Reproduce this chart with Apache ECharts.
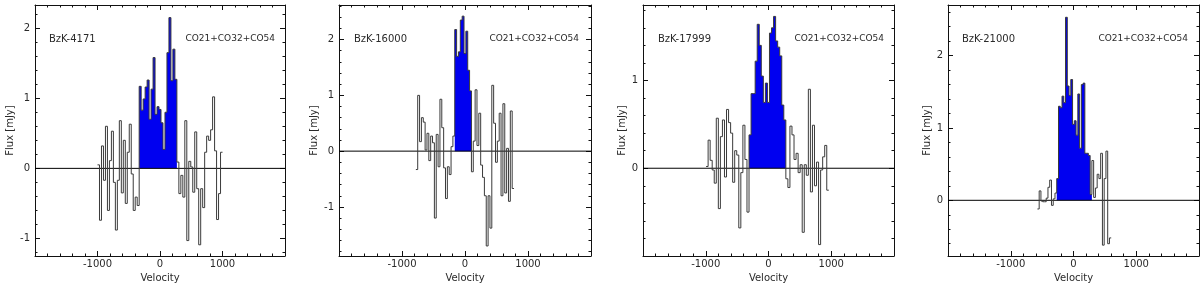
<!DOCTYPE html>
<html><head><meta charset="utf-8">
<script src="https://cdn.jsdelivr.net/npm/echarts@6/dist/echarts.min.js"></script>
<style>html,body{margin:0;padding:0;background:#fff}#c{width:1200px;height:283px}</style>
</head><body><div id="c"></div>
<script>
// ---- data ----
const sourceNames = ['BzK-4171', 'BzK-16000', 'BzK-17999', 'BzK-21000'];
const lineLabel = 'CO21+CO32+CO54';
const xTitle = 'Velocity';
const yTitle = 'Flux [mJy]';

// channel grid (velocity of first channel edge, channel width in km/s)
const vStart = [-1000, -780, -995, -575];
const chanWidth = [31.75, 29.4, 32.6, 28];

// panel 1: BzK-4171  (left noise / line channels (blue) / right noise)
const left1 = [0.05, -0.74, 0.32, -0.17, 0.6, -0.6, 0.11, 0.53, -0.2, -0.88, -0.17, 0.68, -0.35, 0.4, -0.5, 0.23, 0.63, -0.08, -0.6, -0.41, -0.53];
const line1 = [1.17, 0.83, 0.99, 1.16, 1.26, 0.7, 1.13, 1.58, 0.77, 0.88, 0.84, 0.65, 0.27, 0.8, 1.65, 2.15, 1.25, 1.7, 1.27];
const right1 = [0.09, -0.36, -0.1, -0.41, 0.68, -1.03, 0.1, 0.02, -0.34, 0.52, -0.29, -1.09, -0.29, -0.56, 0.23, 0.46, 0.4, 0.55, 1.02, 0.25, -0.73, -0.36, 0.23];
// panel 2: BzK-16000
const left2 = [-0.33, 1.0, 0.17, 0.6, 0.52, 0.02, 0.32, -0.17, 0.27, 0.15, -1.2, 0.3, -0.28, 0.93, 0.42, -0.3, -0.85, -0.28, -0.42, 0.08, 0.27];
const line2 = [2.18, 1.7, 1.78, 2.35, 2.42, 1.75, 2.15, 1.45, 1.08];
const right2 = [-0.37, 0.18, 1.1, 0.1, 0.68, -0.25, -0.47, -0.8, -1.7, -0.8, -1.38, 1.18, 0.5, -0.2, 0.18, 0.68, -0.8, 0.85, -0.75, 0.05, -0.9, 0.72, -0.67];
// panel 3: BzK-17999
const left3 = [0.02, 0.32, 0.09, -0.02, -0.17, 0.57, -0.46, 0.36, 0.55, -0.1, 0.67, 0.52, 0.4, -0.16, 0.2, 0.15, -0.68, -0.05, 0.49, 0.1, -0.5];
const line3 = [0.38, 0.85, 0.85, 1.22, 1.64, 1.4, 1.05, 0.75, 0.97, 0.75, 1.54, 1.6, 1.73, 1.45, 1.38, 1.28, 0.72, 0.55];
const right3 = [-0.12, -0.22, 0.48, 0.38, 0.1, 0.17, -0.05, 0.04, -0.73, 0.04, -0.08, 0.9, -0.27, 0.49, -0.2, 0.07, -0.87, -0.02, 0.13, 0.26, -0.25];
// panel 4: BzK-21000
const left4 = [-0.12, 0.13, -0.01, -0.02, -0.02, 0.03, 0.18, 0.28, -0.07, 0.02, 0.1];
const line4 = [0.3, 1.3, 1.28, 1.44, 1.35, 2.53, 1.58, 1.45, 1.67, 1.05, 1.1, 0.9, 1.47, 0.72, 1.6, 1.62, 0.65, 0.65, 0.62, 0.08];
const right4 = [0.55, 0.04, 0.17, 0.36, 0.3, 0.65, -0.62, 0.3, 0.68, -0.6, -0.52];

// axes
const xMin = -2000, xMax = 2000;
const xMajorTicks = [-1000, 0, 1000];
const xMinorTicks = [-1800, -1600, -1400, -1200, -1000, -800, -600, -400, -200, 0, 200, 400, 600, 800, 1000, 1200, 1400, 1600, 1800];
const yMin = [-1.25, -1.88, -1.0, -0.77];
const yMax = [2.33, 2.62, 1.86, 2.70];
const yMajorTicks = [[-1, 0, 1, 2], [-1, 0, 1, 2], [0, 1], [0, 1, 2]];
const yMinorTicks = [
  [-1.2, -1, -0.8, -0.6, -0.4, -0.2, 0, 0.2, 0.4, 0.6, 0.8, 1, 1.2, 1.4, 1.6, 1.8, 2, 2.2],
  [-1.8, -1.6, -1.4, -1.2, -1, -0.8, -0.6, -0.4, -0.2, 0, 0.2, 0.4, 0.6, 0.8, 1, 1.2, 1.4, 1.6, 1.8, 2, 2.2, 2.4, 2.6],
  [-0.8, -0.6, -0.4, -0.2, 0, 0.2, 0.4, 0.6, 0.8, 1, 1.2, 1.4, 1.6, 1.8],
  [-0.6, -0.4, -0.2, 0, 0.2, 0.4, 0.6, 0.8, 1, 1.2, 1.4, 1.6, 1.8, 2, 2.2, 2.4, 2.6]
];

const panels = [
  [left1, line1, right1], [left2, line2, right2], [left3, line3, right3], [left4, line4, right4]
];

// ---- layout / style ----
const gridLeft = [35, 339, 643, 948];
const gridWidth = [250, 252, 251, 251];
const gridTop = 5, gridHeight = 251;
const yNameGap = [20, 20, 15, 15];
const labelLeft = [49, 354, 658, 962];
const labelRight = [925, 621, 316, 12];
const FONT = 'DejaVu Sans';
const TXT = '#2a2a2a';
const FRAME = '#111';
const OUTLINE = '#3a3a3a';
const FILL = '#0000f0';

// histogram bins: [leftEdge, rightEdge, value, previousValue]
function bins(p, offset, vals, prevFirst) {
  const out = [];
  for (let i = 0; i < vals.length; i++) {
    const k = offset + i;
    const prev = i === 0 ? prevFirst : vals[i - 1];
    out.push([vStart[p] + k * chanWidth[p], vStart[p] + (k + 1) * chanWidth[p], vals[i], prev]);
  }
  return out;
}

function renderOutline(params, api) {
  const x0 = api.value(0), x1 = api.value(1), y = api.value(2), yp = api.value(3);
  const pts = [api.coord([x0, yp]), api.coord([x0, y]), api.coord([x1, y])];
  return {type: 'polyline', shape: {points: pts}, silent: true,
    style: {stroke: OUTLINE, lineWidth: 1, fill: null}};
}
// the filled line channels are drawn as one polygon (built from the same bins through api.coord)
const fillBins = [];
function makeFillRenderer(p) {
  return function (params, api) {
    if (params.dataIndex !== 0) return null;
    const b = fillBins[p];
    const pts = [api.coord([b[0][0], 0])];
    b.forEach(d => { pts.push(api.coord([d[0], d[2]])); pts.push(api.coord([d[1], d[2]])); });
    pts.push(api.coord([b[b.length - 1][1], 0]));
    return {type: 'polygon', silent: true, shape: {points: pts}, style: {fill: FILL, stroke: null}};
  };
}
function renderZero(params, api) {
  const a = api.coord([api.value(0), 0]), b = api.coord([api.value(1), 0]);
  return {type: 'line', silent: true, shape: {x1: a[0], y1: a[1], x2: b[0], y2: b[1]},
    style: {stroke: '#000', lineWidth: 1}};
}

const grids = [], xAxes = [], yAxes = [], series = [], titles = [];
panels.forEach((pd, p) => {
  grids.push({left: gridLeft[p], top: gridTop, width: gridWidth[p], height: gridHeight,
    containLabel: false, outerBoundsMode: 'none'});
  const xBase = {gridIndex: p, type: 'value', min: xMin, max: xMax, splitLine: {show: false}};
  const lineOn = {show: true, onZero: false, lineStyle: {color: FRAME, width: 1}};
  const lineOff = {show: false, onZero: false};
  xAxes.push(Object.assign({}, xBase, {
    position: 'bottom', axisLine: lineOn,
    axisTick: {show: true, inside: true, length: 5, customValues: xMajorTicks, lineStyle: {color: FRAME}},
    axisLabel: {show: true, customValues: xMajorTicks, margin: 3, fontSize: 10, fontFamily: FONT, color: TXT,
      formatter: v => String(v)},
    name: xTitle, nameLocation: 'middle', nameGap: 13,
    nameTextStyle: {fontSize: 10, fontFamily: FONT, color: TXT}
  }));
  xAxes.push(Object.assign({}, xBase, {
    position: 'bottom', axisLine: lineOff,
    axisTick: {show: true, inside: true, length: 2.5, customValues: xMinorTicks, lineStyle: {color: FRAME}},
    axisLabel: {show: false}
  }));
  xAxes.push(Object.assign({}, xBase, {
    position: 'top', axisLine: lineOn,
    axisTick: {show: true, inside: true, length: 5, customValues: xMajorTicks, lineStyle: {color: FRAME}},
    axisLabel: {show: false}
  }));
  xAxes.push(Object.assign({}, xBase, {
    position: 'top', axisLine: lineOff,
    axisTick: {show: true, inside: true, length: 2.5, customValues: xMinorTicks, lineStyle: {color: FRAME}},
    axisLabel: {show: false}
  }));
  const yBase = {gridIndex: p, type: 'value', min: yMin[p], max: yMax[p], splitLine: {show: false}};
  yAxes.push(Object.assign({}, yBase, {
    position: 'left', axisLine: lineOn,
    axisTick: {show: true, inside: true, length: 5, customValues: yMajorTicks[p], lineStyle: {color: FRAME}},
    axisLabel: {show: true, customValues: yMajorTicks[p], margin: 5, fontSize: 10, fontFamily: FONT, color: TXT,
      formatter: v => String(v)},
    name: yTitle, nameLocation: 'middle', nameGap: yNameGap[p],
    nameTextStyle: {fontSize: 10, fontFamily: FONT, color: TXT}
  }));
  yAxes.push(Object.assign({}, yBase, {
    position: 'left', axisLine: lineOff,
    axisTick: {show: true, inside: true, length: 2.5, customValues: yMinorTicks[p], lineStyle: {color: FRAME}},
    axisLabel: {show: false}
  }));
  yAxes.push(Object.assign({}, yBase, {
    position: 'right', axisLine: lineOn,
    axisTick: {show: true, inside: true, length: 5, customValues: yMajorTicks[p], lineStyle: {color: FRAME}},
    axisLabel: {show: false}
  }));
  yAxes.push(Object.assign({}, yBase, {
    position: 'right', axisLine: lineOff,
    axisTick: {show: true, inside: true, length: 2.5, customValues: yMinorTicks[p], lineStyle: {color: FRAME}},
    axisLabel: {show: false}
  }));

  const [lv, bv, rv] = pd;
  const all = lv.concat(bv, rv);
  fillBins[p] = bins(p, lv.length, bv, bv[0]);
  series.push({
    type: 'custom', xAxisIndex: 4 * p, yAxisIndex: 4 * p, z: 2,
    renderItem: makeFillRenderer(p), encode: {x: [0, 1], y: 2},
    data: fillBins[p]
  });
  series.push({
    type: 'custom', xAxisIndex: 4 * p, yAxisIndex: 4 * p, z: 3,
    renderItem: renderZero, encode: {x: [0, 1]},
    data: [[xMin, xMax]]
  });
  series.push({
    type: 'custom', xAxisIndex: 4 * p, yAxisIndex: 4 * p, z: 4,
    renderItem: renderOutline, encode: {x: [0, 1], y: [2, 3]},
    data: bins(p, 0, all, all[0])
  });
  titles.push({text: sourceNames[p], left: labelLeft[p], top: 34, padding: 0,
    textStyle: {fontSize: 10, fontWeight: 'normal', fontFamily: FONT, color: TXT}});
  titles.push({text: lineLabel, right: labelRight[p], top: 34, padding: 0,
    textStyle: {fontSize: 9, fontWeight: 'normal', fontFamily: FONT, color: TXT}});
});

const chart = echarts.init(document.getElementById('c'), null, {renderer: 'canvas'});
chart.setOption({
  animation: false,
  backgroundColor: '#fff',
  title: titles,
  grid: grids,
  xAxis: xAxes,
  yAxis: yAxes,
  series: series
});
</script>
</body></html>
